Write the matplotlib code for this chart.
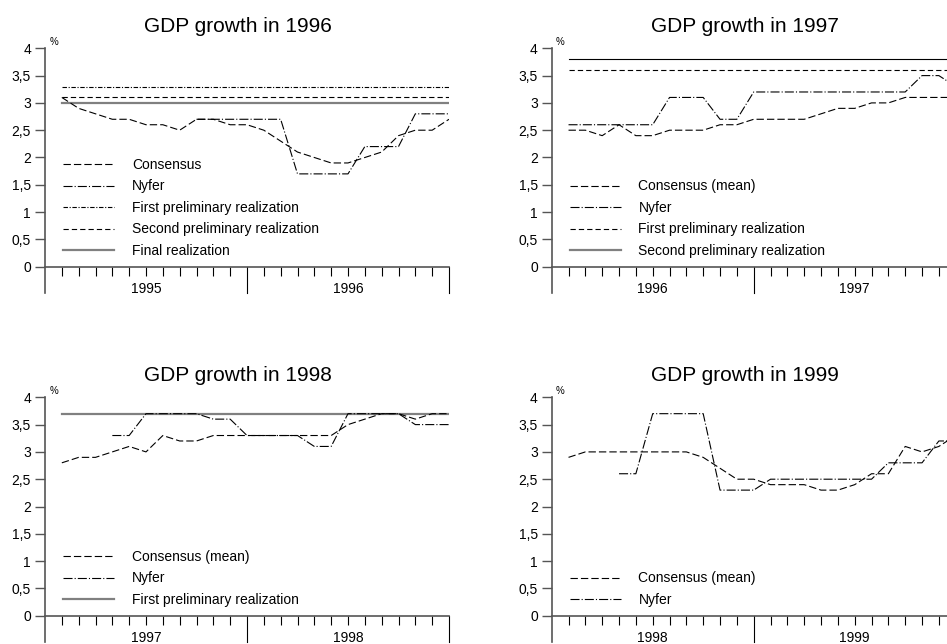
import numpy as np
import matplotlib
matplotlib.use("Agg")
import matplotlib.pyplot as plt
from matplotlib.lines import Line2D

plt.rcParams["font.family"] = ["Liberation Sans", "DejaVu Sans"]
plt.rcParams["lines.scale_dashes"] = False

nan = np.nan
months = np.arange(1, 25)

# GDP growth in 1996
cons_96 = [3.1, 2.9, 2.8, 2.7, 2.7, 2.6, 2.6, 2.5, 2.7, 2.7, 2.6, 2.6,
           2.5, 2.3, 2.1, 2.0, 1.9, 1.9, 2.0, 2.1, 2.4, 2.5, 2.5, 2.7]
nyfer_96 = [nan] * 8 + [2.7, 2.7, 2.7, 2.7, 2.7, 2.7, 1.7, 1.7, 1.7, 1.7,
                        2.2, 2.2, 2.2, 2.8, 2.8, 2.8]
first_96, second_96, final_96 = 3.3, 3.1, 3.0

# GDP growth in 1997
cons_97 = [2.5, 2.5, 2.4, 2.6, 2.4, 2.4, 2.5, 2.5, 2.5, 2.6, 2.6, 2.7,
           2.7, 2.7, 2.7, 2.8, 2.9, 2.9, 3.0, 3.0, 3.1, 3.1, 3.1, 3.1]
nyfer_97 = [2.6] * 6 + [3.1, 3.1, 3.1, 2.7, 2.7] + [3.2] * 10 + [3.5, 3.5, 3.3]
first_97, second_97 = 3.6, 3.8

# GDP growth in 1998
cons_98 = [2.8, 2.9, 2.9, 3.0, 3.1, 3.0, 3.3, 3.2, 3.2, 3.3, 3.3, 3.3,
           3.3, 3.3, 3.3, 3.3, 3.3, 3.5, 3.6, 3.7, 3.7, 3.6, 3.7, 3.7]
nyfer_98 = [nan] * 3 + [3.3, 3.3, 3.7, 3.7, 3.7, 3.7, 3.6, 3.6, 3.3, 3.3, 3.3,
                        3.3, 3.1, 3.1, 3.7, 3.7, 3.7, 3.7, 3.5, 3.5, 3.5]
first_98 = 3.7

# GDP growth in 1999
cons_99 = [2.9, 3.0, 3.0, 3.0, 3.0, 3.0, 3.0, 3.0, 2.9, 2.7, 2.5, 2.5,
           2.4, 2.4, 2.4, 2.3, 2.3, 2.4, 2.6, 2.6, 3.1, 3.0, 3.1, 3.3]
nyfer_99 = [nan] * 3 + [2.6, 2.6, 3.7, 3.7, 3.7, 3.7, 2.3, 2.3, 2.3, 2.5, 2.5,
                        2.5, 2.5, 2.5, 2.5, 2.5, 2.8, 2.8, 2.8, 3.2, 3.2]

AXIS = "#555555"
GRAY = "#808080"

# line styles (dash patterns in points)
CONS = dict(color="black", lw=0.8, linestyle=(0, (5.3, 2.2)))
NYFER = dict(color="black", lw=0.8, linestyle=(0, (6.5, 1.5, 0.8, 1.5)))
DASHDOT = dict(color="black", lw=0.8, linestyle=(0, (3.2, 1.2, 0.8, 1.2)))
SHORT = dict(color="black", lw=0.8, linestyle=(0, (3.8, 2.2)))
SOLID = dict(color="black", lw=0.8, linestyle="-")
THICK = dict(color=GRAY, lw=1.6, linestyle="-")


def setup_axes(ax, title, years):
    ax.set_xlim(0, 24)
    ax.set_ylim(0, 4)
    for side in ("top", "right", "left"):
        ax.spines[side].set_visible(False)
    ax.spines["bottom"].set_color(AXIS)
    ax.spines["bottom"].set_linewidth(1.2)
    ax.axvline(0, ymin=-0.12, ymax=1, color=AXIS, lw=1.2, clip_on=False)
    ax.axvline(12, ymin=-0.12, ymax=0, color="black", lw=0.8, clip_on=False)
    ax.axvline(24, ymin=-0.12, ymax=0, color="black", lw=0.8, clip_on=False)

    ax.set_xticks([m for m in range(1, 24) if m != 12])
    ax.tick_params(axis="x", direction="out", length=6.5, width=0.8,
                   color="black", labelbottom=False)
    yt = np.arange(0, 4.01, 0.5)
    ax.set_yticks(yt)
    ax.set_yticklabels([f"{v:g}".replace(".", ",") for v in yt])
    ax.tick_params(axis="y", direction="out", length=7, width=1.0,
                   color=AXIS, pad=3, labelsize=10)

    ax.text(6, -0.41, years[0], ha="center", va="center", fontsize=10)
    ax.text(18, -0.41, years[1], ha="center", va="center", fontsize=10)
    ax.text(11.45, 4.30, title, ha="center", va="baseline", fontsize=15)
    ax.text(0.25, 4.12, "%", ha="left", va="center", fontsize=7)


def add_legend(ax, entries):
    handles = [Line2D([], [], **style) for style, _ in entries]
    labels = [label for _, label in entries]
    ax.legend(handles, labels, loc="lower left", bbox_to_anchor=(1.07, 0.16),
              bbox_transform=ax.transData, frameon=False, borderpad=0,
              borderaxespad=0, handlelength=3.7, handletextpad=1.25,
              labelspacing=0.54, fontsize=10)


fig = plt.figure(figsize=(9.47, 6.44), dpi=100)
W, H = 404 / 947, 218.4 / 644
ax1 = fig.add_axes([45 / 947, 1 - 266.7 / 644, W, H])
ax2 = fig.add_axes([551.7 / 947, 1 - 266.7 / 644, W, H])
ax3 = fig.add_axes([45 / 947, 1 - 615.7 / 644, W, H])
ax4 = fig.add_axes([551.7 / 947, 1 - 615.7 / 644, W, H])

# 1996
setup_axes(ax1, "GDP growth in 1996", ("1995", "1996"))
ax1.plot([1, 24], [first_96, first_96], **DASHDOT)
ax1.plot([1, 24], [second_96, second_96], **SHORT)
ax1.plot([1, 24], [final_96, final_96], **THICK)
ax1.plot(months, cons_96, **CONS)
ax1.plot(months, nyfer_96, **NYFER)
add_legend(ax1, [(CONS, "Consensus"), (NYFER, "Nyfer"),
                 (DASHDOT, "First preliminary realization"),
                 (SHORT, "Second preliminary realization"),
                 (THICK, "Final realization")])

# 1997
setup_axes(ax2, "GDP growth in 1997", ("1996", "1997"))
ax2.plot([1, 24], [second_97, second_97], **SOLID)
ax2.plot([1, 24], [first_97, first_97], **SHORT)
ax2.plot(months, cons_97, **CONS)
ax2.plot(months, nyfer_97, **NYFER)
add_legend(ax2, [(CONS, "Consensus (mean)"), (NYFER, "Nyfer"),
                 (SHORT, "First preliminary realization"),
                 (THICK, "Second preliminary realization")])

# 1998
setup_axes(ax3, "GDP growth in 1998", ("1997", "1998"))
ax3.plot([1, 24], [first_98, first_98], **THICK)
ax3.plot(months, cons_98, **CONS)
ax3.plot(months, nyfer_98, **NYFER)
add_legend(ax3, [(CONS, "Consensus (mean)"), (NYFER, "Nyfer"),
                 (THICK, "First preliminary realization")])

# 1999
setup_axes(ax4, "GDP growth in 1999", ("1998", "1999"))
ax4.plot(months, cons_99, **CONS)
ax4.plot(months, nyfer_99, **NYFER)
add_legend(ax4, [(CONS, "Consensus (mean)"), (NYFER, "Nyfer")])

fig.savefig("out.png", dpi=100)
